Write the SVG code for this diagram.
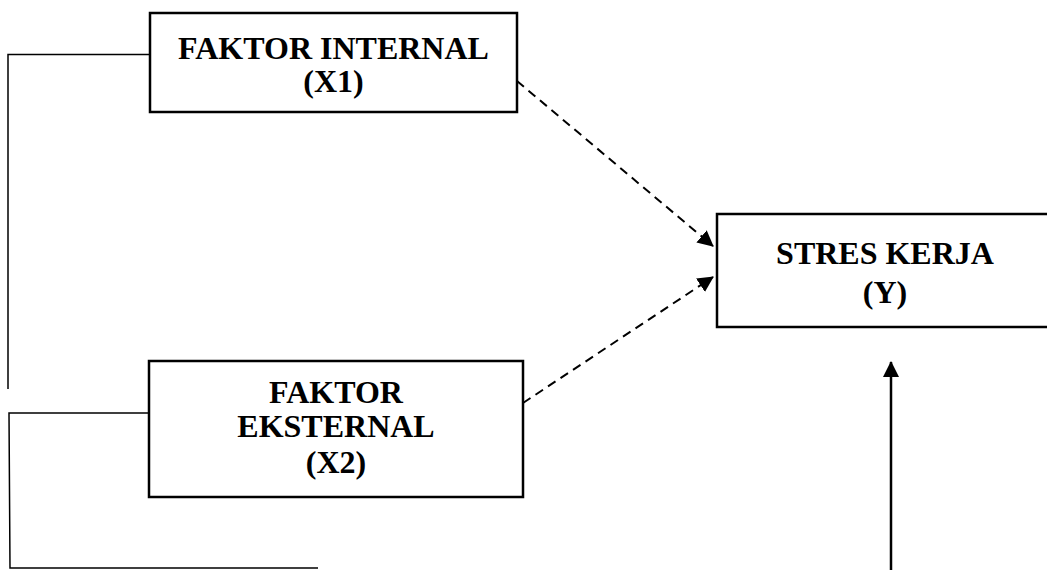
<svg xmlns="http://www.w3.org/2000/svg" width="1047" height="570" viewBox="0 0 1047 570">
<defs>
<style>
.box{fill:#fff;stroke:#000;stroke-width:2.5}
.t{font-family:"Liberation Serif","Times New Roman",serif;font-weight:bold;font-size:32px;fill:#000;text-anchor:middle}
.ln{fill:none;stroke:#000;stroke-width:1.5}
.dash{fill:none;stroke:#000;stroke-width:2;stroke-dasharray:9,6}
.arr{fill:none;stroke:#000;stroke-width:2.5}
</style>
<marker id="ah" markerWidth="16" markerHeight="16" viewBox="0 0 16 16" refX="15" refY="8" orient="auto" markerUnits="userSpaceOnUse">
<path d="M0,0 L16,8 L0,16 Z" fill="#000"/>
</marker>
</defs>
<g id="connectors">
<polyline class="ln" points="150,54.5 8,54.5 8,389"/>
<polyline class="ln" points="150,413 9,413 10,568 318,568"/>
<line class="dash" x1="517" y1="81" x2="713" y2="246" marker-end="url(#ah)"/>
<line class="dash" x1="523" y1="403" x2="713" y2="277" marker-end="url(#ah)"/>
<line class="arr" x1="891" y1="570" x2="891" y2="362" marker-end="url(#ah)"/>
</g>
<g id="x1">
<rect class="box" x="150" y="13" width="367" height="99"/>
<text class="t" x="333.5" y="59">FAKTOR INTERNAL</text>
<text class="t" x="333.5" y="92">(X1)</text>
</g>
<g id="x2">
<rect class="box" x="149" y="361" width="374" height="136"/>
<text class="t" x="336" y="403">FAKTOR</text>
<text class="t" x="336" y="437">EKSTERNAL</text>
<text class="t" x="336" y="473">(X2)</text>
</g>
<g id="y">
<rect class="box" x="717" y="214" width="340" height="113"/>
<text class="t" x="885" y="264">STRES KERJA</text>
<text class="t" x="885" y="303">(Y)</text>
</g>
</svg>
